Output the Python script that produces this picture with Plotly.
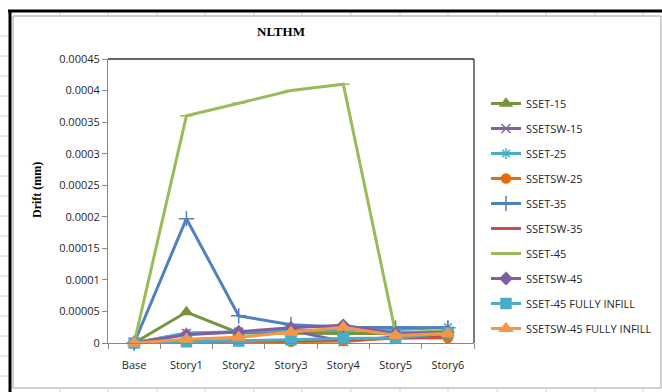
import plotly.graph_objects as go

W, H = 662, 392

stories = ["Base", "Story1", "Story2", "Story3", "Story4", "Story5", "Story6"]

sset_15 = [0, 0.000049, 0.000016, 0.000015, 0.000015, 0.000015, 0.000017]
ssetsw_15 = [0, 0.000015, 0.000017, 0.000020, 0.000002, 0.000010, 0.000015]
sset_25 = [0, 0.000016, 0.000018, 0.000020, 0.000020, 0.000021, 0.000025]
ssetsw_25 = [0, 0.000003, 0.000003, 0.000002, 0.000003, 0.000008, 0.000008]
sset_35 = [0, 0.000197, 0.000043, 0.000029, 0.000025, 0.000024, 0.000024]
ssetsw_35 = [0, 0.000002, 0.000003, 0.000004, 0.000005, 0.000008, 0.000010]
sset_45 = [0, 0.000360, 0.000380, 0.000400, 0.000410, 0.000016, 0.000020]
ssetsw_45 = [0, 0.000013, 0.000018, 0.000024, 0.000028, 0.000015, 0.000017]
sset_45_infill = [0, 0.000002, 0.000003, 0.000005, 0.000007, 0.000008, 0.000016]
ssetsw_45_infill = [0, 0.000006, 0.000009, 0.000017, 0.000025, 0.000012, 0.000015]

y_ticks = [0, 0.00005, 0.0001, 0.00015, 0.0002, 0.00025, 0.0003, 0.00035, 0.0004, 0.00045]
y_tick_text = ["0", "0.00005", "0.0001", "0.00015", "0.0002", "0.00025",
               "0.0003", "0.00035", "0.0004", "0.00045"]

series = [
    ("SSET-15", sset_15, "#77933C", "triangle-up", 10),
    ("SSETSW-15", ssetsw_15, "#8064A2", "x-thin", 9),
    ("SSET-25", sset_25, "#4BACC6", "asterisk", 9),
    ("SSETSW-25", ssetsw_25, "#E46C0A", "circle", 9),
    ("SSET-35", sset_35, "#4F81BD", "cross-thin", 11),
    ("SSETSW-35", ssetsw_35, "#C0504D", "line-ew", 7),
    ("SSET-45", sset_45, "#9BBB59", "line-ew", 9),
    ("SSETSW-45", ssetsw_45, "#7E5FA3", "diamond", 9),
    ("SSET-45 FULLY INFILL", sset_45_infill, "#4BACC6", "square", 10),
    ("SSETSW-45 FULLY INFILL", ssetsw_45_infill, "#F79646", "triangle-up", 11),
]

fig = go.Figure()
for i, (name, vals, color, sym, size) in enumerate(series):
    fig.add_trace(go.Scatter(
        x=stories, y=vals, name=name, mode="lines+markers",
        line=dict(color=color, width=3),
        marker=dict(symbol=sym, size=size, color=color,
                    line=dict(color=color, width=1.5)),
        cliponaxis=False, legendgroup=f"g{i}",
    ))

px = lambda v: v / W
py = lambda v: 1 - v / H

shapes = []
grid_c = "#d4d4d4"
# worksheet cell lines around the chart
for gx in [60, 108, 157, 205, 254, 302, 351, 400, 448, 497, 546, 595, 643]:
    shapes.append(dict(type="line", xref="paper", yref="paper",
                       x0=px(gx), x1=px(gx), y0=py(12), y1=py(16),
                       line=dict(color=grid_c, width=1)))
    shapes.append(dict(type="line", xref="paper", yref="paper",
                       x0=px(gx), x1=px(gx), y0=py(389), y1=py(392),
                       line=dict(color=grid_c, width=1)))
for gy in range(36, 392, 20):
    shapes.append(dict(type="line", xref="paper", yref="paper",
                       x0=px(0), x1=px(8), y0=py(gy), y1=py(gy),
                       line=dict(color=grid_c, width=1)))
# thick frame on top and left
shapes.append(dict(type="line", xref="paper", yref="paper",
                   x0=px(8), x1=px(662), y0=py(11), y1=py(11),
                   line=dict(color="black", width=3)))
shapes.append(dict(type="line", xref="paper", yref="paper",
                   x0=px(10), x1=px(10), y0=py(10), y1=py(392),
                   line=dict(color="black", width=3)))
# chart area border
shapes.append(dict(type="rect", xref="paper", yref="paper",
                   x0=px(13), x1=px(661), y0=py(16), y1=py(388),
                   line=dict(color="#a0a0a0", width=1)))
# plot area top and right edges
shapes.append(dict(type="line", xref="paper", yref="paper",
                   x0=px(108), x1=px(474), y0=py(59), y1=py(59),
                   line=dict(color="#303030", width=1.3)))
shapes.append(dict(type="line", xref="paper", yref="paper",
                   x0=px(474), x1=px(474), y0=py(59), y1=py(343),
                   line=dict(color="#303030", width=1.3)))

fig.update_layout(
    width=W, height=H,
    margin=dict(l=0, r=0, t=0, b=0, autoexpand=False),
    paper_bgcolor="white", plot_bgcolor="white",
    font=dict(family="Liberation Sans Narrow, Open Sans, Arial", size=11, color="#262626"),
    shapes=shapes,
    showlegend=True,
    legend=dict(x=px(486), y=py(89), xanchor="left", yanchor="top",
                traceorder="grouped", tracegroupgap=6,
                font=dict(family="Liberation Sans Narrow, Open Sans, Arial", size=11, color="#262626"),
                bgcolor="rgba(0,0,0,0)", itemwidth=30),
    annotations=[
        dict(text="<b>NLTHM</b>", xref="paper", yref="paper",
             x=px(281), y=py(32), showarrow=False, xanchor="center", yanchor="middle",
             font=dict(family="Liberation Serif, Times New Roman", size=13, color="black")),
        dict(text="<b>Drift (mm)</b>", xref="paper", yref="paper",
             x=px(37), y=py(190), showarrow=False, textangle=-90,
             xanchor="center", yanchor="middle",
             font=dict(family="Liberation Serif, Times New Roman", size=12, color="black")),
    ],
    xaxis=dict(domain=[px(108), px(474)], type="category", automargin=False,
               range=[-0.5, 6.5], showgrid=False, zeroline=False,
               showline=True, linecolor="#888888", linewidth=1,
               ticks="outside", tickson="boundaries", ticklen=5, tickcolor="#888888",
               tickfont=dict(size=11, color="#262626"), ticklabelstandoff=12),
    yaxis=dict(domain=[py(343), py(59)], range=[0, 0.00045], automargin=False,
               tickvals=y_ticks, ticktext=y_tick_text, showgrid=False, zeroline=False,
               showline=True, linecolor="#888888", linewidth=1,
               ticks="outside", ticklen=5, tickcolor="#888888",
               tickfont=dict(size=11, color="#262626")),
)

fig.write_html("out.html")
